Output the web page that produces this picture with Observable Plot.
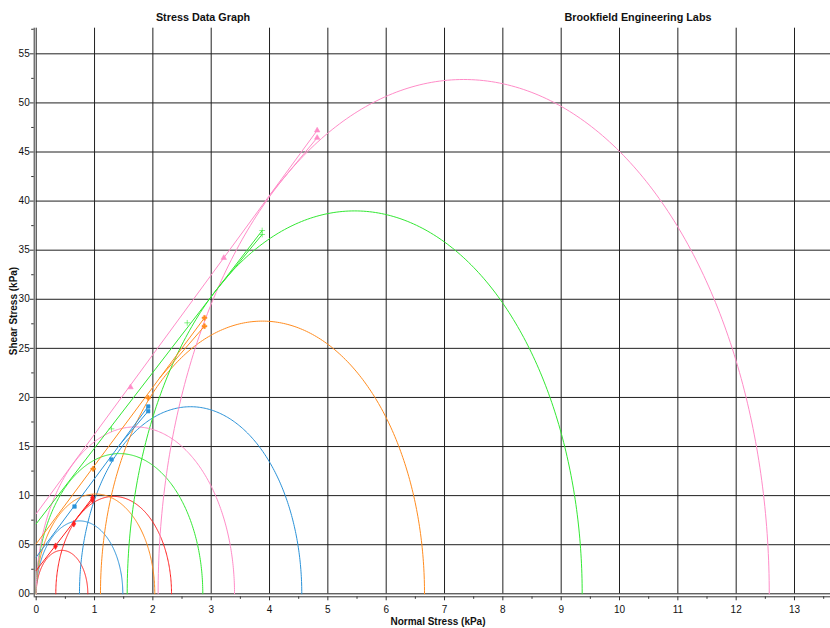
<!DOCTYPE html>
<html>
<head>
<meta charset="utf-8">
<script src="https://cdn.jsdelivr.net/npm/d3@7"></script>
<script src="https://cdn.jsdelivr.net/npm/@observablehq/plot@0.6"></script>
<style>
  html, body { margin: 0; padding: 0; background: #fff; }
  #chart { width: 830px; height: 628px; }
</style>
</head>
<body>
<div id="chart"></div>
<script>
// ---- data (normal stress and shear stress in kPa) ----
const series = ["A", "B", "C", "D", "E"];
const seriesColors = ["#ff1f1f", "#2a92d8", "#ff8c1f", "#33e833", "#ff8cc8"];
const seriesSymbols = ["diamond", "square", "cross", "plus", "triangle"];

// yield locus intercepts (shear stress at zero normal stress)
const intercepts = [0.237, 0.373, 0.509, 0.713, 0.815];

// failure points on each yield locus
const failX = [[0.331, 0.645], [0.657, 1.291], [0.977, 1.92], [1.291, 2.589], [1.617, 3.216]];
const failY = [[0.485, 0.713], [0.889, 1.368], [1.273, 1.996], [1.68, 2.76], [2.104, 3.422]];

// pre-shear points (two per test)
const preX = [0.965, 1.92, 2.885, 3.874, 4.817];
const preYHigh = [0.978, 1.908, 2.811, 3.70, 4.72];
const preYLow = [0.957, 1.86, 2.726, 3.66, 4.645];

// Mohr circles: unconfined (starts at 0) and major consolidation circles
const smallCircleEnd = [0.885, 1.485, 2.033, 2.856, 3.40];
const bigCircleStart = [0.336, 0.742, 1.102, 1.56, 2.09];
const bigCircleEnd = [2.32, 4.553, 6.657, 9.36, 12.567];

// axis ticks
const xMajor = d3.range(0, 14, 1);
const xMinor = d3.range(0.5, 14, 1);
const yMajor = d3.range(0, 5.51, 0.5);
const yMinor = d3.range(0.25, 5.8, 0.5);

// ---- derived tables ----
const points = [];
const circles = [];
const loci = [];
series.forEach((s, i) => {
  failX[i].forEach((x, j) => points.push({s, x, y: failY[i][j]}));
  points.push({s, x: preX[i], y: preYHigh[i]});
  points.push({s, x: preX[i], y: preYLow[i]});

  const arcs = [
    {id: s + "small", c: smallCircleEnd[i] / 2, r: smallCircleEnd[i] / 2},
    {id: s + "big", c: (bigCircleStart[i] + bigCircleEnd[i]) / 2, r: (bigCircleEnd[i] - bigCircleStart[i]) / 2}
  ];
  for (const a of arcs) {
    for (let k = 0; k <= 240; k++) {
      const t = Math.PI * k / 240;
      circles.push({s, id: a.id, x: a.c - a.r * Math.cos(t), y: a.r * Math.sin(t)});
    }
  }

  const b = intercepts[i];
  const m = (preYHigh[i] - b) / preX[i];
  loci.push({s, id: s + "L1", x: 0, y: b});
  loci.push({s, id: s + "L1", x: preX[i], y: preYHigh[i]});
  const c = arcs[1].c;
  const xt = Math.min(c - m * (m * c + b) / (1 + m * m), preX[i] * 0.95);
  loci.push({s, id: s + "L2", x: xt, y: b + m * xt});
  loci.push({s, id: s + "L2", x: preX[i], y: preYLow[i]});
});

const gridColor = "#202020";

const chart = Plot.plot({
  width: 830,
  height: 628,
  marginLeft: 35.7,
  marginRight: 0,
  marginTop: 27.7,
  marginBottom: 34.7,
  style: {fontFamily: "'Liberation Sans', Arial, sans-serif", fontSize: "10px", background: "#fff", color: "#111"},
  x: {domain: [0, 13.617]},
  y: {domain: [0, 5.761]},
  color: {domain: series, range: seriesColors},
  symbol: {domain: series, range: seriesSymbols},
  marks: [
    Plot.ruleX(xMajor, {stroke: gridColor, strokeWidth: 1}),
    Plot.ruleY(yMajor, {stroke: gridColor, strokeWidth: 1}),
    Plot.line(circles, {x: "x", y: "y", z: "id", stroke: "s", strokeWidth: 1}),
    Plot.line(loci, {x: "x", y: "y", z: "id", stroke: "s", strokeWidth: 1}),
    Plot.dot(points, {x: "x", y: "y", symbol: "s", fill: "s", stroke: "s", strokeWidth: 0.6, r: 2}),
    Plot.ruleX([0], {dx: -2, insetBottom: -3, stroke: "#333"}),
    Plot.ruleY([0], {dy: 3, insetLeft: -2, stroke: "#333"}),
    Plot.axisX(xMajor, {tickSize: 4, tickPadding: 5, dy: 3, label: null, stroke: "#333"}),
    Plot.axisX(xMinor, {tickSize: 2.5, dy: 3, label: null, tickFormat: () => "", stroke: "#333"}),
    Plot.axisY(yMajor, {tickSize: 4, tickPadding: 0.5, dx: -2, label: null, stroke: "#333",
      tickFormat: d => String(Math.round(d * 10)).padStart(2, "0")}),
    Plot.axisY(yMinor, {tickSize: 2.5, dx: -2, label: null, tickFormat: () => "", stroke: "#333"})
  ]
});

const svg = d3.select(chart);
const addText = (x, y, str, size, rotate) => {
  const t = svg.append("text")
    .attr("x", x).attr("y", y)
    .attr("text-anchor", "middle")
    .attr("font-weight", "bold")
    .attr("font-size", size)
    .attr("fill", "#111")
    .text(str);
  if (rotate) t.attr("transform", `rotate(-90 ${x} ${y})`);
};
addText(203, 20.5, "Stress Data Graph", 10.8);
addText(638, 20.5, "Brookfield Engineering Labs", 10.8);
addText(438, 625, "Normal Stress (kPa)", 10);
addText(17, 311, "Shear Stress (kPa)", 10, true);

document.getElementById("chart").appendChild(chart);
</script>
</body>
</html>
